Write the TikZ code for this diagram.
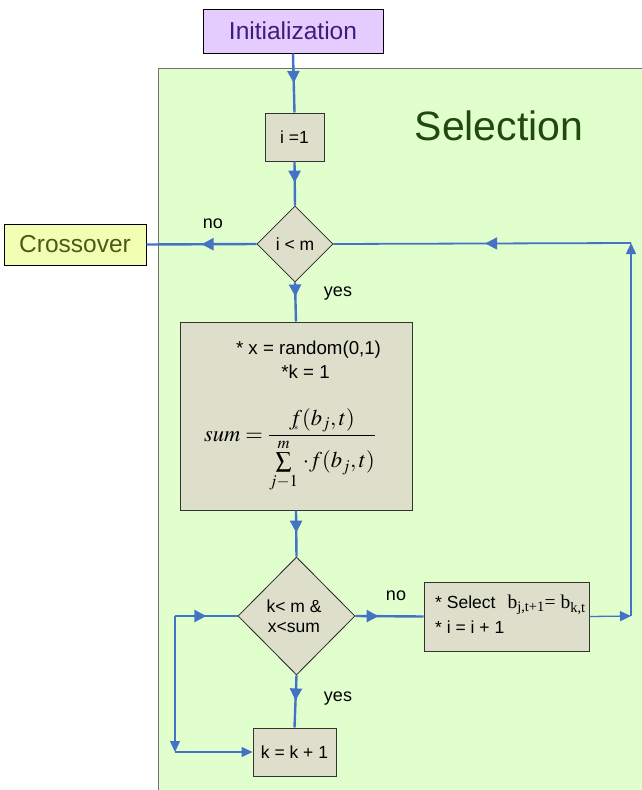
\documentclass[tikz,border=0pt]{standalone}
\usepackage{mathptmx}
\usepackage{fontspec}
\setmainfont{Liberation Sans}
\newfontfamily\tms{Liberation Serif}
\usetikzlibrary{arrows.meta,shapes.geometric,decorations.markings}

\definecolor{selbg}{HTML}{E0FFCC}
\definecolor{boxfill}{HTML}{DDDFCA}
\definecolor{flow}{HTML}{4472C4}
\definecolor{initfill}{HTML}{E5CCFF}
\definecolor{inittext}{HTML}{3F1C7A}
\definecolor{crossfill}{HTML}{F2FFB3}
\definecolor{crosstext}{HTML}{4A5A1A}
\definecolor{seltext}{HTML}{1F4A0C}

\tikzset{
  procbox/.style={draw=black!80, line width=1pt, fill=boxfill, inner sep=0pt, rectangle},
  decision/.style={draw=black!85, line width=0.8pt, fill=boxfill, diamond, inner sep=0pt, aspect=1},
  flowtip/.tip={Triangle[width=12pt,length=12pt]},
  thintip/.tip={Triangle[width=10pt,length=11pt]},
  flowline/.style={draw=flow, line width=2.4pt},
  thinline/.style={draw=flow, line width=1.3pt},
  midarrow/.style={postaction={decorate}, decoration={markings,
      mark=at position #1 with {\arrow[flow]{flowtip}}}},
  lbl/.style={font=\fontsize{18}{20}\selectfont, inner sep=0pt},
  txt/.style={font=\fontsize{17.5}{20}\selectfont, inner sep=0pt},
}

\begin{document}
\begin{tikzpicture}[x=1pt, y=-1pt]
  \useasboundingbox (0,0) rectangle (641,790);

  % selection stage background
  \draw[fill=selbg, draw=black!55, line width=1pt] (158,68) rectangle (650,800);
  \node[inner sep=0pt, text=seltext, font=\fontsize{41}{46}\selectfont] (title) at (499,126) {Selection};

  % stage boxes
  \node[draw=black, line width=1pt, fill=initfill, minimum width=180pt, minimum height=44pt,
        text=inittext, font=\fontsize{24.5}{28}\selectfont] (init) at (293,31) {Initialization};
  \node[draw=black, line width=1pt, fill=crossfill, minimum width=142pt, minimum height=41pt,
        text=crosstext, font=\fontsize{24.5}{28}\selectfont] (cross) at (75,244.5) {Crossover};

  % process steps
  \node[procbox, minimum width=59pt, minimum height=48pt, txt] (i1) at (294.5,137) {i =1};
  \node[decision, minimum width=76pt, minimum height=76pt] (d1) at (295,244) {};
  \node[txt] (d1t) at (295,244) {i < m};

  \node[procbox, minimum width=232pt, minimum height=188pt] (big) at (296,416) {};
  \node[inner sep=0pt, font=\fontsize{18.7}{21}\selectfont] (l1) at (308.5,350) {* x = random(0,1)};
  \node[inner sep=0pt, font=\fontsize{18.7}{21}\selectfont] (l2) at (305.5,372) {*k = 1};
  \node[inner sep=0pt, font=\fontsize{22.5}{26}\selectfont, anchor=base west] (sumf) at (204,441)
    {$\displaystyle sum=\frac{f(b_{j},t)}{\sum\limits_{j-1}^{m}\,\cdot f(b_{j},t)}$};
  \node[inner sep=0pt, font=\fontsize{10}{10}\selectfont] (star) at (296,428) {$\ast$};

  \node[decision, minimum width=117pt, minimum height=118pt] (d2) at (296.5,616) {};
  \node[txt, align=center] (d2t) at (294,616) {k< m \&\\x<sum};

  \node[procbox, minimum width=165pt, minimum height=69pt] (sel) at (506.5,616.5) {};
  \node[inner sep=0pt, font=\fontsize{17.5}{19}\selectfont, anchor=west] (s1) at (435,605) {* Select\hspace{12pt}{\tms\fontsize{19.5}{21}\selectfont b\textsubscript{j,t+1}= b\textsubscript{k,t}}};
  \node[inner sep=0pt, font=\fontsize{17.5}{19}\selectfont, anchor=west] (s2) at (435,627) {* i = i + 1};

  \node[procbox, minimum width=83pt, minimum height=48pt, txt] (kinc) at (294.5,752) {k = k + 1};

  % branch labels
  \node[lbl] (no1) at (213,224) {no};
  \node[lbl] (yes1) at (338,294) {yes};
  \node[lbl] (no2) at (396,596) {no};
  \node[lbl] (yes2) at (338,699) {yes};

  % loop corners
  \coordinate (c1) at (631,616);
  \coordinate (c2) at (631,243);
  \coordinate (c3) at (175,616);
  \coordinate (c4) at (175,752);

  % main flow
  \draw[flowline, midarrow=0.5] (init.south) -- (i1.north);
  \draw[flowline, midarrow=0.48] (i1.south) -- (d1.north);
  \draw[flowline, midarrow=0.5] (d1.west) -- (cross.east);
  \draw[flowline, midarrow=0.36] (d1.south) -- (big.north);
  \draw[flowline, midarrow=0.48] (big.south) -- (d2.north);
  \draw[flowline, midarrow=0.34] (d2.east) -- (sel.west);
  \draw[flowline, midarrow=0.48] (d2.south) -- (kinc.north);

  % return to i < m
  \draw[thinline, -{thintip}] (sel.east) -- (c1);
  \draw[thinline, -{thintip}] (c1) -- (c2);
  \draw[flowline, line width=1.8pt, midarrow=0.49] (c2) -- (d1.east);

  % k loop
  \draw[flowline, midarrow=0.5] (c3) -- (d2.west);
  \draw[thinline, -{thintip}] (c3) -- (c4);
  \draw[thinline, -{thintip}] (c4) -- (kinc.west);
\end{tikzpicture}
\end{document}
